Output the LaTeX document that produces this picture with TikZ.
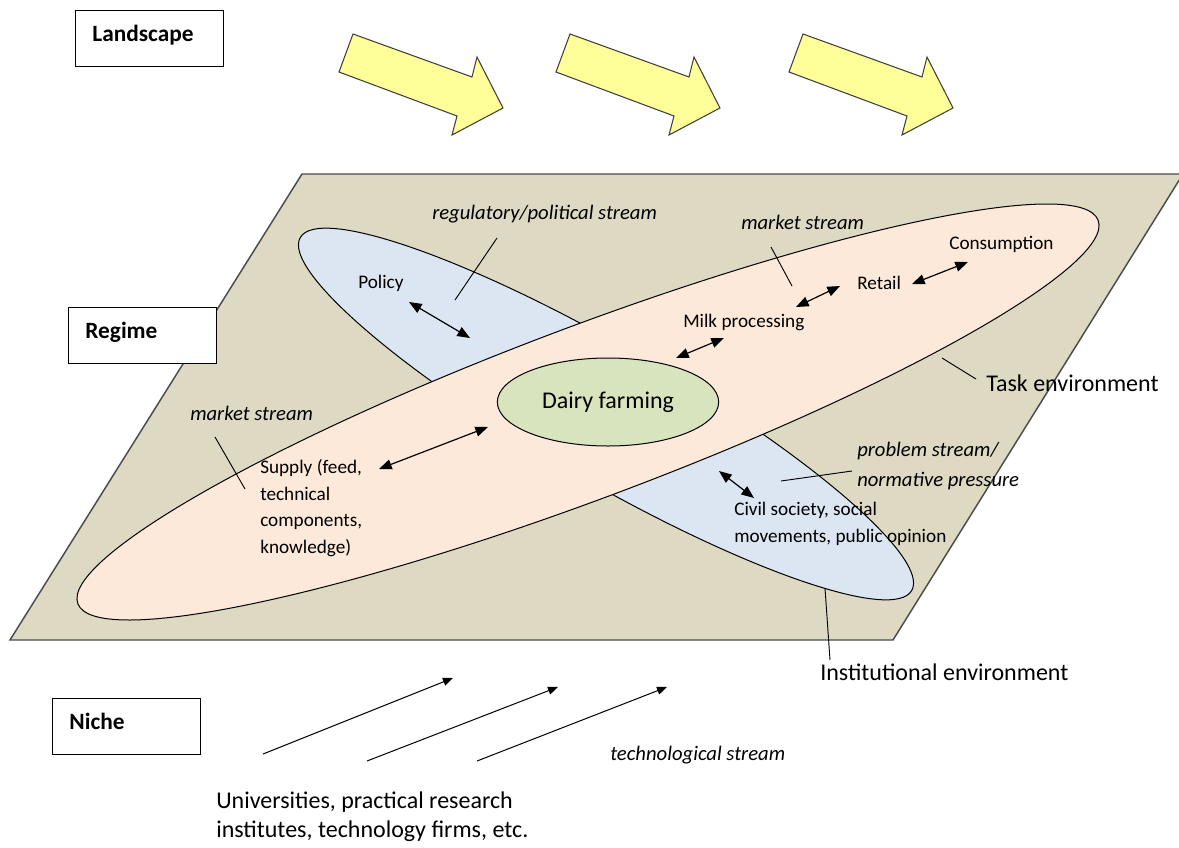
\documentclass[tikz,border=0pt]{standalone}
\usepackage{fontspec}
\setmainfont{Carlito}
\usetikzlibrary{arrows.meta,shapes.geometric}

\definecolor{plane}{HTML}{DDD9C3}
\definecolor{instblue}{HTML}{DCE6F2}
\definecolor{taskpink}{HTML}{FDE9D9}
\definecolor{farmgreen}{HTML}{D7E4BD}
\definecolor{landyellow}{HTML}{FFFF99}

\begin{document}
\begin{tikzpicture}[x=0.75pt, y=-0.75pt,
  levelbox/.style={draw, fill=white, line width=1.1pt, font=\fontsize{17.5}{21}\selectfont\bfseries,
    text width=86pt, align=left, inner xsep=12.5pt, inner ysep=0pt,
    text height=23pt, text depth=19pt, anchor=north west},
  small/.style={font=\fontsize{14.4}{20}\selectfont, inner sep=0pt, anchor=west, align=left},
  stream/.style={font=\fontsize{15.5}{23}\selectfont\itshape, inner sep=0pt, anchor=west, align=left},
  big/.style={font=\fontsize{18}{22}\selectfont, inner sep=0pt, anchor=west, align=left},
  twoway/.style={{Triangle[length=9.5pt,width=7.5pt]}-{Triangle[length=9.5pt,width=7.5pt]}, line width=0.9pt},
  oneway/.style={-{Triangle[length=7.5pt,width=6pt]}, line width=0.75pt},
  leader/.style={line width=0.7pt},
  bigarrow/.style={fill=landyellow, draw=black!75, line width=0.8pt, line join=miter}]

\useasboundingbox (0,0) rectangle (1179,847);

% landscape pressure
\foreach \dx in {0,217,450}
  \draw [bigarrow, shift={(\dx,0)}] (353,34) -- (472,77) -- (477,57) -- (503,108)
    -- (452,135) -- (457,116) -- (339,72) -- cycle ;

% regime plane
\draw [fill=plane, draw=black!70, line width=1.1pt] (302,174) -- (1183,174) -- (893,640) -- (10,640) -- cycle ;

% institutional and task environment
\draw [fill=instblue, line width=0.75pt, rotate around={-30:(606,414)}] (606,414) ellipse [x radius=353, y radius=67] ;
\draw [fill=taskpink, line width=0.75pt, rotate around={20.6:(588,412)}] (588,412) ellipse [x radius=545, y radius=86] ;

\node [ellipse, draw, fill=farmgreen, line width=0.75pt, minimum width=166pt, minimum height=66pt,
  font=\fontsize{18}{22}\selectfont, inner sep=0pt] (dairy) at (608,402) {Dairy farming\hspace{10pt}};

% level boxes
\node [levelbox] (landscape) at (75,10) {Landscape};
\node [levelbox] (regime) at (68,307) {Regime};
\node [levelbox] (niche) at (52,698) {Niche};

% labels
\node [stream] (regstream) at (432,214) {regulatory/political stream};
\node [stream] (mkttop) at (741,222) {market stream};
\node [small] (consumption) at (949,244) {Consumption};
\node [small] (retail) at (857,283) {Retail};
\node [small] (milk) at (683,322) {Milk processing};
\node [small] (policy) at (358,283) {Policy};
\node [big] (task) at (986,383) {Task environment};
\node [stream] (mktleft) at (190,413) {market stream};
\node [small] (supply) at (260,508) {Supply (feed,\\technical\\components,\\knowledge)};
\node [stream] (problem) at (857,466) {problem stream/\\normative pressure};
\node [small] (civil) at (734,524) {Civil society, social\\movements, public opinion};
\node [big] (inst) at (820,672) {Institutional environment};
\node [stream] (tech) at (610,755) {technological stream};
\node [big] (univ) at (216,817) {Universities, practical research\\institutes, technology firms, etc.};

% leader lines
\draw [leader] (497,238) to (455,300) ;
\draw [leader] (771,247) to (792,286) ;
\draw [leader] (215,437) to (245,489) ;
\draw [leader] (942,358) to (976,379) ;
\draw [leader] (781,481) to (852,471) ;
\draw [leader] (825,588) to (830,660) ;

% exchanges
\coordinate (pol1) at (409,302) ; \coordinate (pol2) at (470,338) ;
\coordinate (sup1) at (379,469) ; \coordinate (sup2) at (488,427) ;
\coordinate (dai1) at (676,358) ; \coordinate (dai2) at (724,338) ;
\coordinate (mil1) at (796,307) ; \coordinate (mil2) at (840,286) ;
\coordinate (ret1) at (912,284) ; \coordinate (ret2) at (968,262) ;
\coordinate (civ1) at (719,471) ; \coordinate (civ2) at (754,498) ;

\draw [twoway] (pol1) to (pol2) ;
\draw [twoway] (sup1) to (sup2) ;
\draw [twoway] (dai1) to (dai2) ;
\draw [twoway] (mil1) to (mil2) ;
\draw [twoway] (ret1) to (ret2) ;
\draw [twoway] (civ1) to (civ2) ;

% niche push
\coordinate (nich1) at (263,754) ; \coordinate (nicha) at (453,678) ;
\coordinate (nich2) at (367,761) ; \coordinate (nichb) at (558,687) ;
\coordinate (nich3) at (477,761) ; \coordinate (nichc) at (667,687) ;

\draw [oneway] (nich1) to (nicha) ;
\draw [oneway] (nich2) to (nichb) ;
\draw [oneway] (nich3) to (nichc) ;

\end{tikzpicture}
\end{document}
